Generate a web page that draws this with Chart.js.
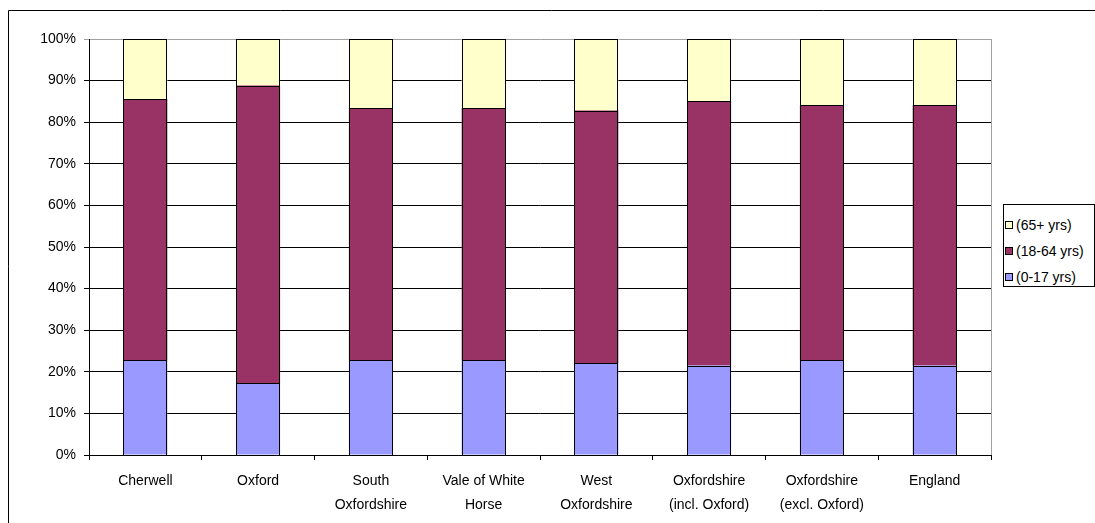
<!DOCTYPE html>
<html>
<head>
<meta charset="utf-8">
<script src="https://cdn.jsdelivr.net/npm/chart.js@4"></script>
<style>
  html, body { margin: 0; padding: 0; background: #fff; }
  #wrap { position: relative; width: 1095px; height: 523px; }
  #legend {
    position: absolute; left: 1003px; top: 204px; width: 92px; height: 83px;
    border: 1px solid #000; box-sizing: border-box; background: #fff;
    font: 14px "Liberation Sans", Arial, sans-serif; color: #000;
  }
  #legend div { position: absolute; left: 1px; height: 16px; line-height: 16px; white-space: nowrap; }
  #legend span { display: inline-block; width: 6px; height: 6px; border: 1px solid #000; margin-right: 3px; vertical-align: 1px; }
</style>
</head>
<body>
<div id="wrap">
  <canvas id="chart"></canvas>
  <div id="legend"></div>
</div>
<script>
const categories = [
  ['Cherwell'], ['Oxford'], ['South', 'Oxfordshire'], ['Vale of White', 'Horse'],
  ['West', 'Oxfordshire'], ['Oxfordshire', '(incl. Oxford)'], ['Oxfordshire', '(excl. Oxford)'], ['England']
];
const age0to17  = [22.8, 17.2, 22.8, 22.8, 22.1, 21.5, 22.8, 21.5];
const age18to64 = [62.8, 71.6, 60.6, 60.6, 60.7, 63.6, 61.3, 62.6];
const age65plus = [14.4, 11.2, 16.6, 16.6, 17.2, 14.9, 15.9, 15.9];
const yTicks = [0, 10, 20, 30, 40, 50, 60, 70, 80, 90, 100];

const series = [
  { label: '(0-17 yrs)',  data: age0to17,  color: '#9999ff' },
  { label: '(18-64 yrs)', data: age18to64, color: '#993366' },
  { label: '(65+ yrs)',   data: age65plus, color: '#ffffcc' }
];

// crisp black outline round each bar segment, taken from the bar elements
const outlinePlugin = {
  id: 'outline',
  afterDatasetsDraw(chart) {
    const ctx = chart.ctx;
    ctx.save();
    ctx.strokeStyle = '#000';
    ctx.lineWidth = 1;
    chart.data.datasets.forEach((ds, i) => {
      chart.getDatasetMeta(i).data.forEach(bar => {
        const l = Math.round(bar.x - bar.width / 2);
        const r = Math.round(bar.x + bar.width / 2);
        const t = Math.round(Math.min(bar.y, bar.base));
        const b = Math.round(Math.max(bar.y, bar.base));
        ctx.strokeRect(l + 0.5, t + 0.5, r - l - 1, b - t);
      });
    });
    ctx.restore();
  }
};

// outer frame + plot right edge
const framePlugin = {
  id: 'frame',
  afterDraw(chart) {
    const { ctx, chartArea: a } = chart;
    ctx.save();
    ctx.strokeStyle = '#000';
    ctx.lineWidth = 1;
    ctx.beginPath();
    ctx.moveTo(8.5, 523);
    ctx.lineTo(8.5, 10.5);
    ctx.lineTo(1095, 10.5);
    ctx.stroke();
    ctx.strokeStyle = '#a0a0a0';
    ctx.beginPath();
    ctx.moveTo(Math.round(a.right) + 0.5, a.top);
    ctx.lineTo(Math.round(a.right) + 0.5, a.bottom);
    ctx.stroke();
    ctx.restore();
  }
};

const font = { family: '"Liberation Sans", Arial, sans-serif', size: 14 };

new Chart(document.getElementById('chart'), {
  type: 'bar',
  data: {
    labels: categories,
    datasets: series.map(s => ({
      label: s.label,
      data: s.data,
      backgroundColor: s.color,
      borderWidth: 0,
      categoryPercentage: 1,
      barPercentage: 0.39
    }))
  },
  options: {
    responsive: true,
    maintainAspectRatio: false,
    animation: false,
    layout: { padding: { left: 0, right: 104, top: 39, bottom: 0 } },
    plugins: { legend: { display: false }, tooltip: { enabled: false } },
    scales: {
      x: {
        stacked: true,
        afterFit: s => { s.height = 68; },
        grid: { offset: true, drawOnChartArea: false, drawTicks: true, tickLength: 5, color: '#000' },
        border: { color: '#000', width: 1 },
        ticks: { color: '#000', font: { ...font, lineHeight: 1.65 }, padding: 10, maxRotation: 0, autoSkip: false }
      },
      y: {
        stacked: true,
        min: 0,
        max: 100,
        afterFit: s => { s.width = 89; },
        afterBuildTicks: s => { s.ticks = yTicks.map(v => ({ value: v })); },
        grid: {
          color: c => (c.tick && c.tick.value === 100 ? '#a0a0a0' : '#000'),
          tickLength: 5
        },
        border: { color: '#000', width: 1 },
        ticks: { color: '#000', font, padding: 8, callback: v => v + '%' }
      }
    }
  },
  plugins: [outlinePlugin, framePlugin]
});

// legend, top to bottom in reverse stack order
const legend = document.getElementById('legend');
[...series].reverse().forEach((s, i) => {
  const row = document.createElement('div');
  row.style.top = (12 + i * 26) + 'px';
  row.innerHTML = `<span style="background:${s.color}"></span>${s.label}`;
  legend.appendChild(row);
});
</script>
</body>
</html>
